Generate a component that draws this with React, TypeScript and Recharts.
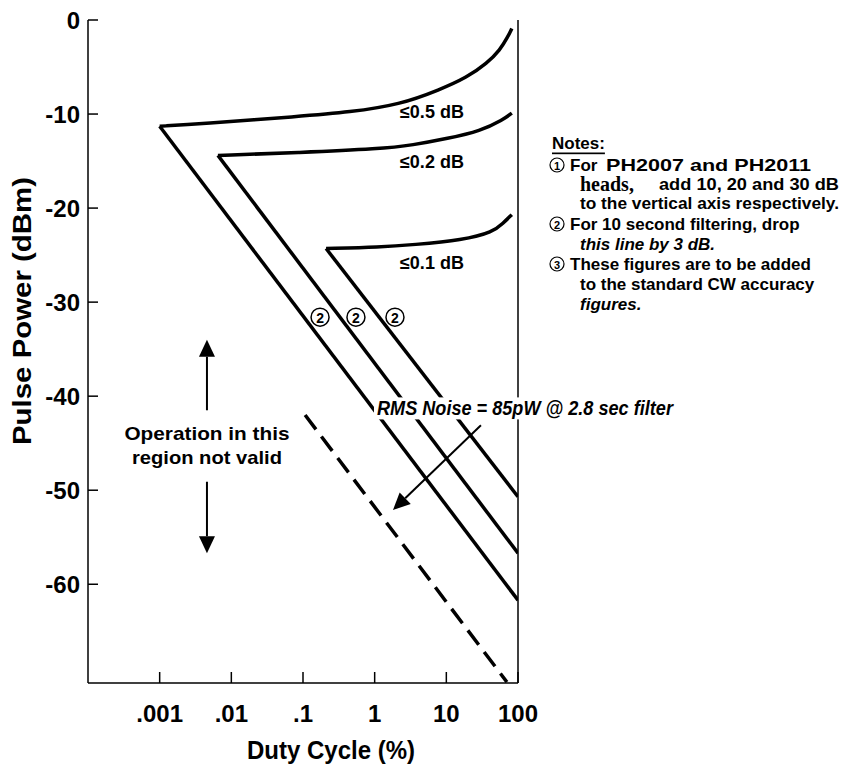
import React from 'react';
import { LineChart, Line, XAxis, YAxis, ReferenceLine, ReferenceDot } from 'recharts';

const FONT = '"Liberation Sans", Arial, Helvetica, sans-serif';
const SERIF = '"Liberation Serif", "Times New Roman", serif';

const xTicks = [0.001, 0.01, 0.1, 1, 10, 100];
const xTickLabels = ['.001', '.01', '.1', '1', '10', '100'];
const yTicks = [0, -10, -20, -30, -40, -50, -60];

// <=0.5 dB boundary
const upper05 = [
  { x: 0.001, y: -11.3 }, { x: 0.0037, y: -11.05 }, { x: 0.09, y: -10.25 }, { x: 0.45, y: -9.8 },
  { x: 2.25, y: -9.0 }, { x: 8.2, y: -7.4 }, { x: 19.4, y: -6.1 }, { x: 37, y: -4.6 },
  { x: 56, y: -3.2 }, { x: 72, y: -1.8 }, { x: 82, y: -0.9 },
];
const lower05 = [{ x: 0.001, y: -11.3 }, { x: 100, y: -61.7 }];

// <=0.2 dB boundary
const upper02 = [
  { x: 0.0065, y: -14.4 }, { x: 0.09, y: -14.1 }, { x: 1.2, y: -13.7 }, { x: 3.4, y: -13.3 },
  { x: 10.5, y: -12.6 }, { x: 30, y: -11.8 }, { x: 62, y: -10.6 }, { x: 82, y: -9.9 },
];
const lower02 = [{ x: 0.0065, y: -14.4 }, { x: 100, y: -56.7 }];

// <=0.1 dB boundary
const upper01 = [
  { x: 0.21, y: -24.3 }, { x: 1.19, y: -24.15 }, { x: 3.43, y: -23.9 }, { x: 17.1, y: -23.4 },
  { x: 44.8, y: -22.55 }, { x: 62, y: -21.6 }, { x: 82, y: -20.7 },
];
const lower01 = [{ x: 0.21, y: -24.3 }, { x: 100, y: -50.7 }];

// RMS noise floor (dashed)
const noiseFloor = [{ x: 0.107, y: -42 }, { x: 70, y: -70.4 }];

const curveLabels = [
  { x: 6.3, y: -9.8, text: '≤0.5 dB' },
  { x: 6.3, y: -15.1, text: '≤0.2 dB' },
  { x: 6.3, y: -25.85, text: '≤0.1 dB' },
];
const circledTwos = [0.173, 0.548, 1.92];
const circledY = -31.6;

const noiseText = 'RMS Noise = 85pW @ 2.8 sec filter';
const invalidText = ['Operation in this', 'region not valid'];

const XTick = (props: any) => {
  const { x, y, payload } = props;
  const i = xTicks.indexOf(payload.value);
  return (
    <g>
      <line x1={x} y1={y} x2={x} y2={y - 11} stroke="#000" strokeWidth={1.5} />
      <text x={x} y={y + 30} textAnchor="middle" dominantBaseline="central"
        style={{ fontFamily: FONT, fontWeight: 700, fontSize: 24, fill: '#000' }}>
        {xTickLabels[i]}
      </text>
    </g>
  );
};

const YTick = (props: any) => {
  const { x, y, payload } = props;
  return (
    <g>
      <line x1={x} y1={y} x2={x + 10} y2={y} stroke="#000" strokeWidth={1.5} />
      <text x={x - 8} y={y} textAnchor="end" dominantBaseline="central"
        style={{ fontFamily: FONT, fontWeight: 700, fontSize: 24, fill: '#000' }}>
        {payload.value}
      </text>
    </g>
  );
};

const arrowShape = (p: any) => {
  const { x1, y1, x2, y2 } = p;
  const ang = Math.atan2(y2 - y1, x2 - x1);
  const L = 17;
  const W = 8;
  const bx = x2 - L * Math.cos(ang);
  const by = y2 - L * Math.sin(ang);
  const px = -Math.sin(ang) * W;
  const py = Math.cos(ang) * W;
  return (
    <g>
      <line x1={x1} y1={y1} x2={bx} y2={by} stroke="#000" strokeWidth={2} />
      <polygon points={`${x2},${y2} ${bx + px},${by + py} ${bx - px},${by - py}`} fill="#000" />
    </g>
  );
};

const lineProps = {
  stroke: '#000',
  strokeWidth: 3.5,
  dot: false,
  activeDot: false,
  isAnimationActive: false,
  dataKey: 'y',
} as const;

export default function App() {
  return (
    <div style={{ position: 'relative', width: 836, height: 767, fontFamily: FONT }}>
      <LineChart width={836} height={767} margin={{ top: 12, right: 326, bottom: 32, left: 0 }}>
        <XAxis
          type="number"
          dataKey="x"
          scale="log"
          domain={[0.0001, 100]}
          allowDataOverflow
          ticks={xTicks}
          interval={0}
          height={60}
          tickSize={0}
          tickMargin={0}
          tickLine={false}
          tick={XTick}
          axisLine={{ stroke: '#000', strokeWidth: 1.5 }}
          label={{
            content: () => (
              <text x={323} y={742} textAnchor="middle" dominantBaseline="central" textLength={168}
                lengthAdjust="spacingAndGlyphs"
                style={{ fontFamily: FONT, fontWeight: 700, fontSize: 25, fill: '#000' }}>
                Duty Cycle (%)
              </text>
            ),
          }}
        />
        <YAxis
          type="number"
          domain={[-70.5, 0]}
          allowDataOverflow
          ticks={yTicks}
          interval={0}
          width={80}
          tickSize={0}
          tickMargin={0}
          tickLine={false}
          tick={YTick}
          axisLine={{ stroke: '#000', strokeWidth: 1.5 }}
          label={{
            content: () => (
              <text x={14} y={303} transform="rotate(-90 14 303)" textAnchor="middle" dominantBaseline="central"
                textLength={268} lengthAdjust="spacingAndGlyphs"
                style={{ fontFamily: FONT, fontWeight: 700, fontSize: 26, fill: '#000' }}>
                Pulse Power (dBm)
              </text>
            ),
          }}
        />
        <ReferenceLine x={100} stroke="#000" strokeWidth={1.5} />

        <Line data={upper05} type="basis" {...lineProps} />
        <Line data={lower05} type="linear" {...lineProps} />
        <Line data={upper02} type="basis" {...lineProps} />
        <Line data={lower02} type="linear" {...lineProps} />
        <Line data={upper01} type="basis" {...lineProps} />
        <Line data={lower01} type="linear" {...lineProps} />
        <Line data={noiseFloor} type="linear" {...lineProps} strokeDasharray="18 9" />

        {curveLabels.map((c) => (
          <ReferenceDot key={c.text} x={c.x} y={c.y} r={0}
            shape={(p: any) => (
              <text x={p.cx} y={p.cy} textAnchor="middle" dominantBaseline="central"
                style={{ fontFamily: FONT, fontWeight: 700, fontSize: 18, fill: '#000' }}>
                {c.text}
              </text>
            )}
          />
        ))}

        {circledTwos.map((cx) => (
          <ReferenceDot key={cx} x={cx} y={circledY} r={0}
            shape={(p: any) => (
              <g>
                <circle cx={p.cx} cy={p.cy} r={9} fill="#fff" stroke="#000" strokeWidth={1.5} />
                <text x={p.cx} y={p.cy + 1} textAnchor="middle" dominantBaseline="central"
                  style={{ fontFamily: FONT, fontWeight: 700, fontSize: 14, fill: '#000' }}>
                  2
                </text>
              </g>
            )}
          />
        ))}

        <ReferenceDot x={1.077} y={-41.3} r={0}
          shape={(p: any) => (
            <g>
              <rect x={p.cx - 3} y={p.cy - 11} width={302} height={22} fill="#fff" />
              <text x={p.cx} y={p.cy} dominantBaseline="central" textLength={296} lengthAdjust="spacingAndGlyphs"
                style={{ fontFamily: FONT, fontWeight: 700, fontStyle: 'italic', fontSize: 19.5, fill: '#000' }}>
                {noiseText}
              </text>
            </g>
          )}
        />
        <ReferenceLine segment={[{ x: 30.4, y: -43.1 }, { x: 1.8, y: -52.1 }]} shape={arrowShape} />

        <ReferenceDot x={0.00457} y={-45.2} r={0}
          shape={(p: any) => (
            <g style={{ fontFamily: FONT, fontWeight: 700, fontSize: 19, fill: '#000' }}>
              <text x={p.cx} y={p.cy - 12} textAnchor="middle" dominantBaseline="central" textLength={165}
                lengthAdjust="spacingAndGlyphs">{invalidText[0]}</text>
              <text x={p.cx} y={p.cy + 12} textAnchor="middle" dominantBaseline="central" textLength={150}
                lengthAdjust="spacingAndGlyphs">{invalidText[1]}</text>
            </g>
          )}
        />
        <ReferenceLine segment={[{ x: 0.00457, y: -41.5 }, { x: 0.00457, y: -34.0 }]} shape={arrowShape} />
        <ReferenceLine segment={[{ x: 0.00457, y: -49.1 }, { x: 0.00457, y: -56.7 }]} shape={arrowShape} />
      </LineChart>

      {/* notes block, right of the plot */}
      <svg width={836} height={767} style={{ position: 'absolute', left: 0, top: 0, pointerEvents: 'none', overflow: 'visible' }}>
        <g style={{ fontFamily: FONT, fontWeight: 700, fontSize: 17, fill: '#000' }} dominantBaseline="central">
          <text x={544} y={135} textDecoration="underline">Notes:</text>

          <circle cx={549} cy={157} r={7} fill="none" stroke="#000" strokeWidth={1.2} />
          <text x={549} y={158} textAnchor="middle" style={{ fontSize: 11 }}>1</text>
          <text x={562} y={157}>For</text>
          <text x={598} y={157} textLength={205} lengthAdjust="spacingAndGlyphs">PH2007 and PH2011</text>

          <text x={572} y={176} style={{ fontFamily: SERIF, fontSize: 20 }}>heads,</text>
          <text x={651} y={176} textLength={180} lengthAdjust="spacingAndGlyphs">add 10, 20 and 30 dB</text>

          <text x={572} y={195} textLength={259} lengthAdjust="spacingAndGlyphs">to the vertical axis respectively.</text>

          <circle cx={549} cy={216} r={7} fill="none" stroke="#000" strokeWidth={1.2} />
          <text x={549} y={217} textAnchor="middle" style={{ fontSize: 11 }}>2</text>
          <text x={562} y={216}>For 10 second filtering, drop</text>

          <text x={572} y={236} style={{ fontStyle: 'italic' }}>this line by 3 dB.</text>

          <circle cx={549} cy={256} r={7} fill="none" stroke="#000" strokeWidth={1.2} />
          <text x={549} y={257} textAnchor="middle" style={{ fontSize: 11 }}>3</text>
          <text x={562} y={256}>These figures are to be added</text>

          <text x={572} y={276}>to the standard CW accuracy</text>

          <text x={572} y={296} style={{ fontStyle: 'italic' }}>figures.</text>
        </g>
      </svg>
    </div>
  );
}
